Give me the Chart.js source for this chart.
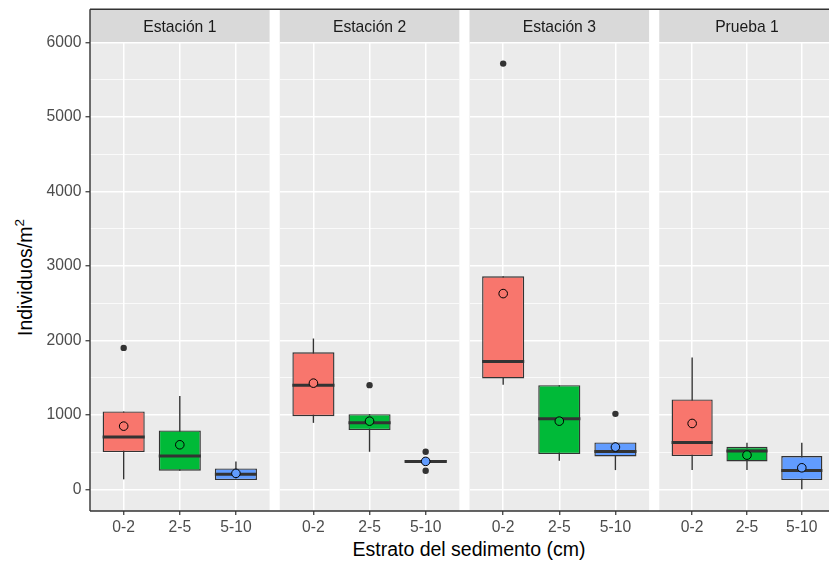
<!DOCTYPE html>
<html>
<head>
<meta charset="utf-8">
<script src="https://cdn.jsdelivr.net/npm/chart.js@4"></script>
<style>
  html, body { margin: 0; padding: 0; overflow: hidden; background: #fff; }
  #wrap { position: relative; width: 840px; height: 564px; }
  #wrap canvas { position: absolute; left: 0; top: 0; }
  .title { position: absolute; font-family: "Liberation Sans", Arial, sans-serif; font-size: 19.5px; color: #000; line-height: 20px; text-align: center; white-space: nowrap; }
  #xtitle { left: 0; width: 938px; top: 539px; }
  #ytitle { left: -74.5px; width: 200px; top: 266px; transform: rotate(-90deg); }
  #ytitle span { font-size: 13.5px; position: relative; top: -8px; }
</style>
</head>
<body>
<div id="wrap">
  <div class="title" id="xtitle">Estrato del sedimento (cm)</div>
  <div class="title" id="ytitle">Individuos/m<span>2</span></div>
</div>
<script>
// Data (Individuos/m2)
const stations = ['Estación 1', 'Estación 2', 'Estación 3', 'Prueba 1'];
const strata = ['0-2', '2-5', '5-10'];
const whiskerLow  = [[137, 252, 127], [895, 507, 355], [1405, 386, 261], [261, 261, 3]];
const q1          = [[503, 252, 127], [985, 798, 360], [1491, 476, 445], [449, 378, 127]];
const median      = [[704, 449, 204], [1401, 895, 378], [1718, 949, 512], [633, 516, 257]];
const q3          = [[1048, 794, 284], [1843, 1012, 395], [2862, 1401, 633], [1209, 574, 449]];
const whiskerHigh = [[1048, 1257, 378], [2027, 1012, 395], [2862, 1401, 633], [1772, 627, 627]];
const means       = [[851, 601, 217], [1428, 918, 378], [2630, 918, 570], [887, 462, 292]];
const outliers    = [[[1901], [], []], [[], [1401], [507, 252]], [[5717], [], [1016]], [[], [], []]];
const yBreaks = [0, 1000, 2000, 3000, 4000, 5000, 6000];
const yMinorBreaks = [500, 1500, 2500, 3500, 4500, 5500];
const yLimits = [-288, 6003];

// Look
const fills = ['#F8766D', '#00BA38', '#619CFF'];
const font = { family: '"Liberation Sans", Arial, sans-serif', size: 15.7 };
const W = 840, H = 564;
const panelLeft0 = 90, panelWidth = 179.6, panelGap = 10.15;
const frameTop = 9.3, stripTop = 10, panelTop = 42.3, panelBottom = 511;

const boxplotPlugin = {
    id: 'boxplot',
    beforeDraw(chart, args, opts) {
        const { ctx, chartArea: a } = chart;
        ctx.save();
        ctx.fillStyle = '#EBEBEB';
        ctx.fillRect(a.left, a.top, a.right - a.left, a.bottom - a.top);
        // facet strip
        ctx.fillStyle = '#D9D9D9';
        ctx.fillRect(a.left, stripTop, a.right - a.left, a.top - stripTop);
        ctx.fillStyle = '#1A1A1A';
        ctx.font = font.size + 'px ' + font.family;
        ctx.textAlign = 'center';
        ctx.textBaseline = 'alphabetic';
        ctx.fillText(opts.label, (a.left + a.right) / 2, (stripTop + a.top) / 2 + font.size * 0.36);
        ctx.restore();
    },
    beforeDatasetDraw(chart, args, opts) {
        if (args.meta.type !== 'bar') return;
        const { ctx } = chart;
        const y = chart.scales.y;
        ctx.save();
        ctx.strokeStyle = '#333333';
        ctx.lineWidth = 1.4;
        args.meta.data.forEach((el, i) => {
            ctx.beginPath();
            ctx.moveTo(el.x, y.getPixelForValue(opts.lo[i]));
            ctx.lineTo(el.x, y.getPixelForValue(opts.hi[i]));
            ctx.stroke();
        });
        ctx.restore();
    },
    afterDatasetDraw(chart, args, opts) {
        if (args.meta.type !== 'bar') return;
        const { ctx } = chart;
        const y = chart.scales.y;
        ctx.save();
        ctx.strokeStyle = '#333333';
        ctx.lineWidth = 3;
        args.meta.data.forEach((el, i) => {
            const py = y.getPixelForValue(opts.med[i]);
            ctx.beginPath();
            ctx.moveTo(el.x - el.width / 2, py);
            ctx.lineTo(el.x + el.width / 2, py);
            ctx.stroke();
        });
        ctx.restore();
    }
};

// axis frame, drawn by the top-most chart so nothing covers it
const framePlugin = {
    id: 'frame',
    afterDraw(chart) {
        const { ctx, chartArea: a } = chart;
        ctx.save();
        ctx.strokeStyle = '#333333';
        ctx.lineWidth = 1.4;
        ctx.beginPath();
        ctx.moveTo(panelLeft0, frameTop);
        ctx.lineTo(chart.width, frameTop);
        ctx.moveTo(panelLeft0, a.bottom);
        ctx.lineTo(chart.width, a.bottom);
        ctx.moveTo(panelLeft0, frameTop);
        ctx.lineTo(panelLeft0, a.bottom);
        ctx.stroke();
        ctx.restore();
    }
};

function makePanel(s) {
    const canvas = document.createElement('canvas');
    canvas.width = W;
    canvas.height = H;
    document.getElementById('wrap').appendChild(canvas);

    const first = s === 0;
    const left = panelLeft0 + s * (panelWidth + panelGap);
    const right = left + panelWidth;
    const isMajor = v => yBreaks.includes(v);

    new Chart(canvas, {
        type: 'bar',
        data: {
            datasets: [
                {
                    type: 'scatter',
                    label: 'Media',
                    data: strata.map((c, i) => ({ x: i + 1, y: means[s][i] })),
                    pointRadius: 4.3,
                    pointBackgroundColor: fills,
                    pointBorderColor: '#000000',
                    pointBorderWidth: 1,
                    order: 1
                },
                {
                    type: 'scatter',
                    label: 'Atípicos',
                    data: outliers[s].flatMap((vals, i) => vals.map(v => ({ x: i + 1, y: v }))),
                    pointRadius: 3.2,
                    pointBackgroundColor: '#333333',
                    pointBorderWidth: 0,
                    order: 2
                },
                {
                    type: 'bar',
                    label: 'Caja',
                    data: strata.map((c, i) => ({ x: i + 1, y: [q1[s][i], q3[s][i]] })),
                    backgroundColor: fills,
                    borderColor: '#333333',
                    borderWidth: 1.4,
                    borderSkipped: false,
                    barPercentage: 0.75,
                    categoryPercentage: 1,
                    order: 3
                }
            ]
        },
        options: {
            responsive: false,
            animation: false,
            events: [],
            layout: { padding: { left: first ? 0 : left, right: W - right, top: panelTop, bottom: 0 } },
            plugins: {
                legend: { display: false },
                tooltip: { enabled: false },
                boxplot: {
                    label: stations[s],
                    lo: whiskerLow[s],
                    hi: whiskerHigh[s],
                    med: median[s]
                }
            },
            scales: {
                x: {
                    type: 'linear',
                    min: 0.4,
                    max: 3.6,
                    offset: false,
                    afterBuildTicks: sc => { sc.ticks = strata.map((c, i) => ({ value: i + 1 })); },
                    afterFit: sc => { sc.height = H - panelBottom; },
                    ticks: {
                        callback: v => strata[v - 1],
                        color: '#4D4D4D',
                        font: font,
                        padding: 3,
                        autoSkip: false,
                        maxRotation: 0
                    },
                    grid: { offset: false, color: '#FFFFFF', lineWidth: 1.5, tickColor: '#333333', tickLength: 4, tickWidth: 1.2 },
                    border: { display: false }
                },
                y: {
                    min: yLimits[0],
                    max: yLimits[1],
                    afterBuildTicks: sc => {
                        sc.ticks = yBreaks.concat(yMinorBreaks).sort((a, b) => a - b).map(v => ({ value: v }));
                    },
                    afterFit: sc => { sc.width = first ? panelLeft0 : 0; },
                    ticks: {
                        display: first,
                        callback: v => isMajor(v) ? String(v) : '',
                        color: '#4D4D4D',
                        font: font,
                        padding: 4,
                        autoSkip: false
                    },
                    grid: {
                        color: '#FFFFFF',
                        lineWidth: ctx => (ctx.tick && isMajor(ctx.tick.value)) ? 1.5 : 0.75,
                        drawTicks: first,
                        tickLength: 4.5,
                        tickWidth: 1.2,
                        tickColor: ctx => (ctx.tick && isMajor(ctx.tick.value)) ? '#333333' : 'rgba(0,0,0,0)'
                    },
                    border: { display: false }
                }
            }
        },
        plugins: s === stations.length - 1 ? [boxplotPlugin, framePlugin] : [boxplotPlugin]
    });
}

stations.forEach((st, s) => makePanel(s));
</script>
</body>
</html>
